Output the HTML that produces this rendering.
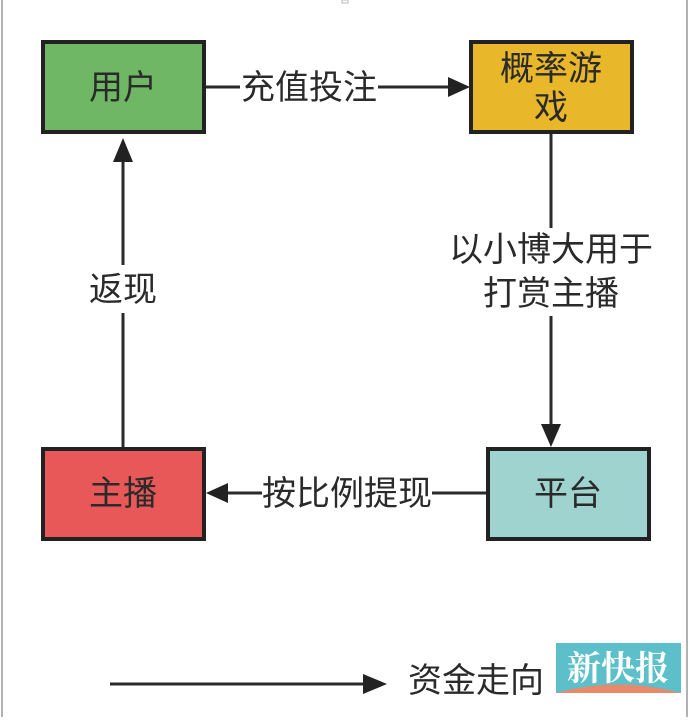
<!DOCTYPE html>
<html><head><meta charset="utf-8"><style>
html,body{margin:0;padding:0;background:#fff;}
body{width:690px;height:717px;overflow:hidden;}
svg text{font-family:"Liberation Sans","Noto Sans CJK SC",sans-serif;fill:#2a2a2a;}
</style></head><body>
<svg width="690" height="717" viewBox="0 0 690 717" xmlns="http://www.w3.org/2000/svg">
<rect width="690" height="717" fill="#fff"/>
<line x1="2" y1="0" x2="2" y2="717" stroke="#999" stroke-width="1.5"/>
<line x1="687" y1="0" x2="687" y2="717" stroke="#999" stroke-width="1.5"/>
<rect x="342" y="0" width="6" height="3" fill="none" stroke="#bbb" stroke-width="1"/>
<g stroke="#222" stroke-width="4">
<rect x="43" y="42" width="161" height="90" fill="#6fb665"/>
<rect x="471" y="42" width="161" height="90" fill="#e9b82a"/>
<rect x="43" y="449" width="161" height="90" fill="#e85858"/>
<rect x="488" y="449" width="161" height="90" fill="#9ed3cf"/>
</g>
<g stroke="#2a2a2a" stroke-width="3" fill="none">
<line x1="206" y1="87" x2="240" y2="87"/>
<line x1="378" y1="87" x2="452" y2="87"/>
<line x1="551" y1="134" x2="551" y2="228"/>
<line x1="551" y1="316" x2="551" y2="428"/>
<line x1="123" y1="158" x2="123" y2="265"/>
<line x1="123" y1="313" x2="123" y2="447"/>
<line x1="486" y1="493" x2="432" y2="493"/>
<line x1="262" y1="493" x2="224" y2="493"/>
<line x1="110" y1="684" x2="365" y2="684"/>
</g>
<g fill="#222">
<polygon points="470,87 448,77 448,97"/>
<polygon points="551,447 541,424 561,424"/>
<polygon points="123,138 113,162 133,162"/>
<polygon points="206,493 228,483 228,503"/>
<polygon points="387,684 363,674 363,694"/>
</g>
<g font-size="34" text-anchor="middle">
<text x="123" y="99">用户</text>
<text x="551" y="80">概率游</text>
<text x="551" y="119">戏</text>
<text x="123" y="505">主播</text>
<text x="568" y="505">平台</text>
<text x="309" y="99">充值投注</text>
<text x="551" y="261">以小博大用于</text>
<text x="551" y="305">打赏主播</text>
<text x="123" y="301">返现</text>
<text x="347" y="505">按比例提现</text>
<text x="476" y="692">资金走向</text>
</g>
<rect x="556" y="643" width="125" height="50" fill="#5dbfc9"/>
<path d="M556 693 Q618 676 681 693 Z" fill="#e88a6a"/>
<text x="618" y="680" font-size="34" text-anchor="middle" style="fill:#fff;font-family:'Noto Serif CJK SC','Noto Sans CJK SC',serif;font-weight:bold">新快报</text>
</svg>
</body></html>
